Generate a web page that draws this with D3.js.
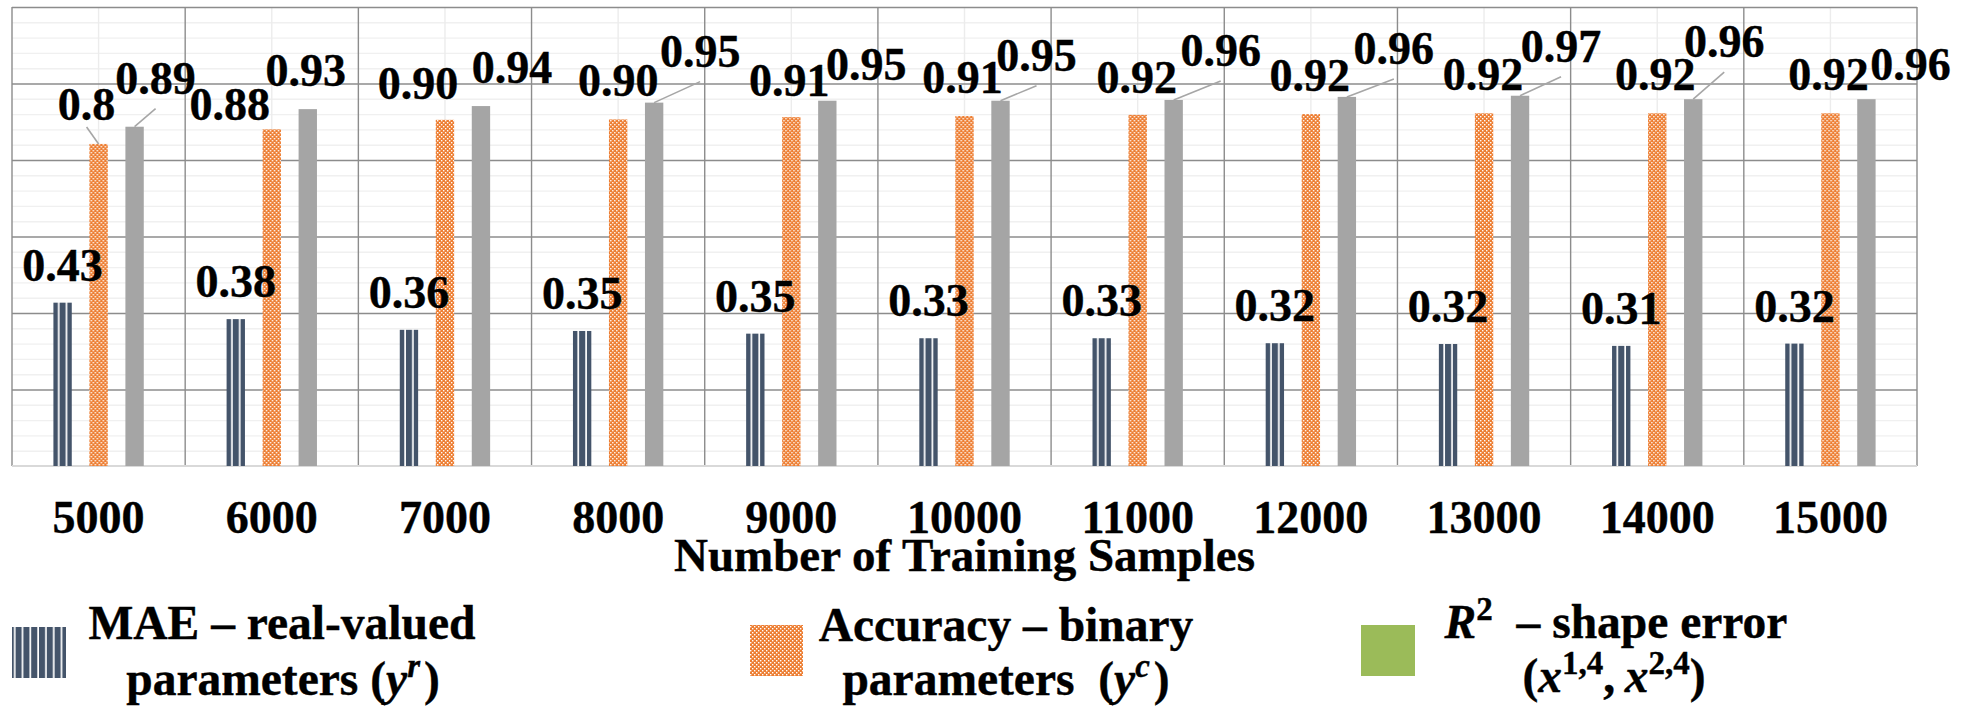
<!DOCTYPE html>
<html>
<head>
<meta charset="utf-8">
<script src="https://cdn.jsdelivr.net/npm/d3@7"></script>
<style>
  html, body { margin: 0; padding: 0; background: #ffffff; }
  svg { display: block; }
  text { font-family: "Liberation Serif", "Times New Roman", serif; font-weight: bold; fill: #000; stroke: #000; stroke-width: 0.4px; }
</style>
</head>
<body>
<svg id="chart" width="1964" height="709"></svg>
<script>
// ---------------- data ----------------
const categories = ["5000","6000","7000","8000","9000","10000","11000","12000","13000","14000","15000"];
const seriesNames = ["MAE", "Accuracy", "R2"];
const maeValues = [0.427, 0.384, 0.356, 0.353, 0.346, 0.334, 0.334, 0.321, 0.319, 0.314, 0.320];
const accValues = [0.842, 0.880, 0.905, 0.906, 0.912, 0.915, 0.918, 0.920, 0.922, 0.922, 0.922];
const r2Values  = [0.887, 0.933, 0.941, 0.950, 0.955, 0.955, 0.957, 0.965, 0.968, 0.959, 0.959];
const maeLabels = ["0.43","0.38","0.36","0.35","0.35","0.33","0.33","0.32","0.32","0.31","0.32"];
const accLabels = ["0.8","0.88","0.90","0.90","0.91","0.91","0.92","0.92","0.92","0.92","0.92"];
const r2Labels  = ["0.89","0.93","0.94","0.95","0.95","0.95","0.96","0.96","0.97","0.96","0.96"];
const xTitle = "Number of Training Samples";

// ---------------- label layout (offsets from bar top centre) ----------------
const maeDx = [0,0,0,0,0,0,0,0,0,0,0];
const maeDy = [22,22,22,22,22,22,22,22,22,22,22];
const accDx = [-12,-42,-27,0,-2,-2,-1,-1,-1,-2,-2];
const accDy = [24,9,21,23,21,23,22,23,23,23,23];
const accLeader = [1,0,0,0,0,0,0,0,0,0,0];
const r2Dx = [21,-2,31,46,39,36,47,47,41,31,44];
const r2Dy = [33,23,23,36,21,30,34,33,34,42,19];
const r2Leader = [1,0,0,1,0,1,1,1,1,1,0];

// ---------------- setup ----------------
const svg = d3.select("#chart");
const plot = { left: 12, right: 1917, top: 7, bottom: 466 };
const FONT = 46;
const LEG_FONT = 47.5;
const SUP_FONT = 33;

const x = d3.scaleBand().domain(categories).range([plot.left, plot.right]).padding(0);
const x1 = d3.scaleBand().domain(seriesNames).range([-54, 54]).paddingInner(0.49).paddingOuter(0.245);
const y = d3.scaleLinear().domain([0, 1.2]).range([plot.bottom, plot.top]);

// patterns
const defs = svg.append("defs");
const stripe = defs.append("pattern").attr("id", "stripes")
  .attr("patternUnits", "userSpaceOnUse").attr("width", 7.8).attr("height", 10);
stripe.append("rect").attr("width", 7.8).attr("height", 10).attr("fill", "#ffffff");
stripe.append("rect").attr("width", 6.1).attr("height", 10).attr("fill", "#44546A");

const checker = defs.append("pattern").attr("id", "checker")
  .attr("patternUnits", "userSpaceOnUse").attr("width", 4).attr("height", 4);
checker.append("rect").attr("width", 4).attr("height", 4).attr("fill", "#ED7D31");
checker.append("rect").attr("x", 0).attr("y", 0).attr("width", 1.4).attr("height", 1.4).attr("fill", "#ffffff");
checker.append("rect").attr("x", 2).attr("y", 2).attr("width", 1.4).attr("height", 1.4).attr("fill", "#ffffff");

const seriesFill = { "MAE": "url(#stripes)", "Accuracy": "url(#checker)", "R2": "#A5A5A5" };

// ---------------- gridlines ----------------
const width = plot.right - plot.left;
const minorTicks = d3.range(0, 1.2001, 0.04).filter(v => Math.abs((v / 0.2) - Math.round(v / 0.2)) > 1e-6);
const majorTicks = d3.range(0.2, 1.2001, 0.2);

svg.append("g").attr("class", "minor-grid")
  .attr("transform", `translate(${plot.left},0)`)
  .call(d3.axisLeft(y).tickValues(minorTicks).tickSize(-width).tickFormat(""))
  .call(g => g.select(".domain").remove())
  .call(g => g.selectAll("line").attr("stroke", "#f0f0f0").attr("stroke-width", 1.4));

// minor vertical lines at category centres
svg.append("g").selectAll("line").data(categories).join("line")
  .attr("x1", d => x(d) + x.bandwidth() / 2).attr("x2", d => x(d) + x.bandwidth() / 2)
  .attr("y1", plot.top).attr("y2", plot.bottom)
  .attr("stroke", "#ececec").attr("stroke-width", 1.4);

svg.append("g").attr("class", "major-grid")
  .attr("transform", `translate(${plot.left},0)`)
  .call(d3.axisLeft(y).tickValues(majorTicks).tickSize(-width).tickFormat(""))
  .call(g => g.select(".domain").remove())
  .call(g => g.selectAll("line").attr("stroke", "#8c8c8c").attr("stroke-width", 1.4));

// major vertical lines at category boundaries
const bounds = categories.map(c => x(c)).concat([x(categories[categories.length - 1]) + x.bandwidth()]);
svg.append("g").selectAll("line").data(bounds).join("line")
  .attr("x1", d => d).attr("x2", d => d)
  .attr("y1", plot.top).attr("y2", plot.bottom)
  .attr("stroke", "#8c8c8c").attr("stroke-width", 1.4);

// baseline
svg.append("line")
  .attr("x1", plot.left).attr("x2", plot.right)
  .attr("y1", y(0)).attr("y2", y(0))
  .attr("stroke", "#d9d9d9").attr("stroke-width", 2);

// ---------------- bars ----------------
const rows = categories.map((c, i) => ({
  cat: c, i,
  vals: [
    { s: "MAE", v: maeValues[i], label: maeLabels[i], dx: maeDx[i], dy: maeDy[i], leader: 0 },
    { s: "Accuracy", v: accValues[i], label: accLabels[i], dx: accDx[i], dy: accDy[i], leader: accLeader[i] },
    { s: "R2", v: r2Values[i], label: r2Labels[i], dx: r2Dx[i], dy: r2Dy[i], leader: r2Leader[i] }
  ]
}));

const groups = svg.append("g").selectAll("g").data(rows).join("g")
  .attr("transform", d => `translate(${x(d.cat) + x.bandwidth() / 2},0)`);

groups.selectAll("rect").data(d => d.vals).join("rect")
  .attr("x", d => x1(d.s))
  .attr("width", x1.bandwidth())
  .attr("y", d => y(d.v))
  .attr("height", d => y(0) - y(d.v))
  .attr("fill", d => seriesFill[d.s]);

// leader lines
groups.selectAll("line.leader").data(d => d.vals.filter(v => v.leader)).join("line")
  .attr("class", "leader")
  .attr("x1", d => x1(d.s) + x1.bandwidth() / 2 + d.dx)
  .attr("y1", d => y(d.v) - d.dy + (d.s === "Accuracy" ? 7 : 15))
  .attr("x2", d => x1(d.s) + x1.bandwidth() / 2)
  .attr("y2", d => y(d.v))
  .attr("stroke", "#a6a6a6").attr("stroke-width", 1.6);

// data labels
groups.selectAll("text.lbl").data(d => d.vals).join("text")
  .attr("class", "lbl")
  .attr("x", d => x1(d.s) + x1.bandwidth() / 2 + d.dx)
  .attr("y", d => y(d.v) - d.dy)
  .attr("text-anchor", "middle")
  .style("font-size", FONT + "px")
  .text(d => d.label);

// ---------------- x axis labels ----------------
svg.append("g").selectAll("text").data(categories).join("text")
  .attr("x", d => x(d) + x.bandwidth() / 2)
  .attr("y", 533)
  .attr("text-anchor", "middle")
  .style("font-size", FONT + "px")
  .text(d => d);

svg.append("text")
  .attr("x", (plot.left + plot.right) / 2)
  .attr("y", 571)
  .attr("text-anchor", "middle")
  .style("font-size", "47px")
  .text(xTitle);

// ---------------- legend ----------------
const legend = svg.append("g");
function sup(t, s, italic) {
  t.append("tspan").attr("dy", -18).style("font-size", SUP_FONT + "px")
    .style("font-style", italic ? "italic" : "normal").text(s);
  t.append("tspan").attr("dy", 18).text("\u200A");
}

// item 1
legend.append("rect").attr("x", 12).attr("y", 627).attr("width", 54).attr("height", 51).attr("fill", "url(#stripes)");
legend.append("text").attr("x", 282).attr("y", 639).attr("text-anchor", "middle").style("font-size", LEG_FONT + "px")
  .text("MAE \u2013 real-valued");
{
  const t = legend.append("text").attr("x", 283).attr("y", 695).attr("text-anchor", "middle").style("font-size", LEG_FONT + "px");
  t.append("tspan").text("parameters (");
  t.append("tspan").style("font-style", "italic").text("y");
  sup(t, "r", true);
  t.append("tspan").text(")");
}

// item 2
legend.append("rect").attr("x", 750).attr("y", 625).attr("width", 53).attr("height", 51).attr("fill", "url(#checker)");
legend.append("text").attr("x", 1006).attr("y", 641).attr("text-anchor", "middle").style("font-size", LEG_FONT + "px")
  .text("Accuracy \u2013 binary");
{
  const t = legend.append("text").attr("x", 1006).attr("y", 695).attr("text-anchor", "middle").style("font-size", LEG_FONT + "px");
  t.append("tspan").text("parameters\u00A0 (");
  t.append("tspan").style("font-style", "italic").text("y");
  sup(t, "c", true);
  t.append("tspan").text(")");
}

// item 3
legend.append("rect").attr("x", 1361).attr("y", 625).attr("width", 54).attr("height", 51).attr("fill", "#9BBB59");
{
  const t = legend.append("text").attr("x", 1616).attr("y", 638).attr("text-anchor", "middle").style("font-size", LEG_FONT + "px");
  t.append("tspan").style("font-style", "italic").text("R");
  t.append("tspan").attr("dy", -18).style("font-size", SUP_FONT + "px").text("2");
  t.append("tspan").attr("dy", 18).text("\u00A0 \u2013 shape error");
}
{
  const t = legend.append("text").attr("x", 1614).attr("y", 692).attr("text-anchor", "middle").style("font-size", LEG_FONT + "px");
  t.append("tspan").text("(");
  t.append("tspan").style("font-style", "italic").text("x");
  t.append("tspan").attr("dy", -18).style("font-size", SUP_FONT + "px").text("1,4");
  t.append("tspan").attr("dy", 18).text(",\u2009");
  t.append("tspan").style("font-style", "italic").text("x");
  t.append("tspan").attr("dy", -18).style("font-size", SUP_FONT + "px").text("2,4");
  t.append("tspan").attr("dy", 18).text(")");
}
</script>
</body>
</html>
